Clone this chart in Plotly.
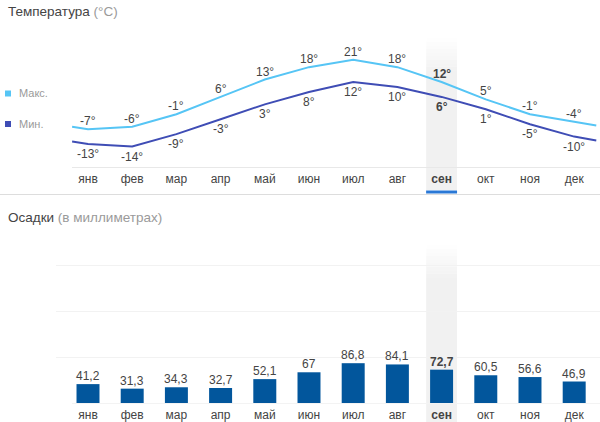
import plotly.graph_objects as go

# данные с картинки
months = ["янв", "фев", "мар", "апр", "май", "июн", "июл", "авг", "сен", "окт", "ноя", "дек"]
temp_max = [-7, -6, -1, 6, 13, 18, 21, 18, 12, 5, -1, -4]
temp_min = [-13, -14, -9, -3, 3, 8, 12, 10, 6, 1, -5, -10]
rain = [41.2, 31.3, 34.3, 32.7, 52.1, 67, 86.8, 84.1, 72.7, 60.5, 56.6, 46.9]

# линии температуры заходят за январь и декабрь
line_x = [-0.36] + list(range(12)) + [11.5]
line_max = [-6] + temp_max + [-5.5]
line_min = [-12] + temp_min + [-11.6]

selected = 8
W, H = 600, 422
TEXT = "#444444"
GRAY = "#9a9a9a"
MAX_COLOR = "#56c5f5"
MIN_COLOR = "#3f4db5"
BAR_COLOR = "#02569c"
FONT = "Liberation Sans"


def py(px):
    return 1 - px / H


def mark(values, suffix="", fmt="{}"):
    out = []
    for i, v in enumerate(values):
        s = fmt.format(v).replace(".", ",") + suffix
        out.append(f"<b>{s}</b>" if i == selected else s)
    return out


month_text = mark(months)
idx = list(range(12))

fig = go.Figure()
fig.add_trace(go.Scatter(x=line_x, y=line_max, mode="lines", line=dict(color=MAX_COLOR, width=2),
                         hoverinfo="skip", xaxis="x", yaxis="y"))
fig.add_trace(go.Scatter(x=line_x, y=line_min, mode="lines", line=dict(color=MIN_COLOR, width=2),
                         hoverinfo="skip", xaxis="x", yaxis="y"))
fig.add_trace(go.Bar(x=idx, y=rain, width=0.52, marker=dict(color=BAR_COLOR, line=dict(width=0)),
                     hoverinfo="skip", xaxis="x2", yaxis="y2"))

shapes = []
# серая колонка сентября, сверху растворяется в белом
for top, bottom, xref in [(38, 190, "x"), (245, 422, "x2")]:
    steps = 10
    fade = 36
    for s in range(steps):
        y0 = top + fade * s / steps
        shapes.append(dict(type="rect", layer="below", xref=xref, yref="paper", x0=selected - 0.35, x1=selected + 0.35,
                           y0=py(y0), y1=py(y0 + fade / steps), fillcolor="rgba(0,0,0,0.055)",
                           opacity=(s + 1) / steps, line=dict(width=0)))
    shapes.append(dict(type="rect", layer="below", xref=xref, yref="paper", x0=selected - 0.35, x1=selected + 0.35,
                       y0=py(top + fade), y1=py(bottom), fillcolor="rgba(0,0,0,0.055)", line=dict(width=0)))
# синяя черта под выбранным месяцем
shapes.append(dict(type="rect", xref="x", yref="paper", x0=selected - 0.35, x1=selected + 0.35,
                   y0=py(190.5), y1=py(193.5), fillcolor="#2a78d6", line=dict(width=0)))
# разделитель
shapes.append(dict(type="line", xref="paper", yref="paper", x0=0, x1=1, y0=py(194.5), y1=py(194.5),
                   line=dict(color="#dddddd", width=1)))
# базовая линия осадков
shapes.append(dict(type="line", layer="below", xref="paper", yref="paper", x0=72 / W, x1=1, y0=py(403.5), y1=py(403.5),
                   line=dict(color="#f3f3f3", width=1)))
# квадратики легенды
for top, color in [(90.5, MAX_COLOR), (121, MIN_COLOR)]:
    shapes.append(dict(type="rect", xref="paper", yref="paper", x0=5 / W, x1=11 / W,
                       y0=py(top), y1=py(top + 6), fillcolor=color, line=dict(width=0)))


def label(text, x, y, size=12, color=TEXT):
    return dict(text=text, x=x / W, y=py(y), xref="paper", yref="paper", xanchor="left", yanchor="middle",
                showarrow=False, borderpad=0, borderwidth=0, font=dict(size=size, color=color, family=FONT))


def value_label(text, x, y, shift, xref="x", yref="y"):
    return dict(text=text, x=x, y=y, xref=xref, yref=yref, xanchor="center", yanchor="middle", yshift=shift,
                showarrow=False, font=dict(size=12, color=TEXT, family=FONT))


annotations = [
    label(f"Температура <span style='color:{GRAY}'>(°C)</span>", 8, 12, size=13.5),
    label(f"Осадки <span style='color:{GRAY}'>(в миллиметрах)</span>", 8, 217, size=13.5),
    label("Макс.", 19, 93, size=11, color=GRAY),
    label("Мин.", 19, 124, size=11, color=GRAY),
]
for i, t in zip(idx, mark(temp_max, "°")):
    annotations.append(value_label(t, i, temp_max[i], 8))
for i, t in zip(idx, mark(temp_min, "°")):
    annotations.append(value_label(t, i, temp_min[i], -10))
for i, t in zip(idx, mark(rain, fmt="{:g}")):
    annotations.append(value_label(t, i, rain[i], 8, "x2", "y2"))

fig.update_layout(
    width=W, height=H, margin=dict(l=0, r=0, t=0, b=0), showlegend=False,
    paper_bgcolor="white", plot_bgcolor="rgba(0,0,0,0)",
    shapes=shapes, annotations=annotations,
    xaxis=dict(domain=[72 / W, 1], range=[-0.362, 11.584], tickvals=idx, ticktext=month_text,
               showgrid=False, zeroline=False, showline=True, linecolor="#e8e8e8", linewidth=1,
               ticks="outside", ticklen=1, tickcolor="rgba(0,0,0,0)", anchor="y",
               tickfont=dict(size=12, color=TEXT, family=FONT)),
    yaxis=dict(domain=[py(166.5), py(30)], range=[-22.06, 32.98], visible=False),
    xaxis2=dict(domain=[56 / W, 1], range=[-0.724, 11.584], tickvals=idx, ticktext=month_text,
                showgrid=False, zeroline=False, showline=False,
                ticks="outside", ticklen=1, tickcolor="rgba(0,0,0,0)", anchor="y2",
                tickfont=dict(size=12, color=TEXT, family=FONT)),
    yaxis2=dict(domain=[py(403), py(240)], range=[0, 355.5], tickvals=[100, 200, 300], showticklabels=False,
                showgrid=True, gridcolor="#f2f2f2", gridwidth=1, zeroline=False, showline=False, ticks=""),
)

fig.write_html("out.html", config=dict(displayModeBar=False), post_script="document.body.style.margin='0';")
